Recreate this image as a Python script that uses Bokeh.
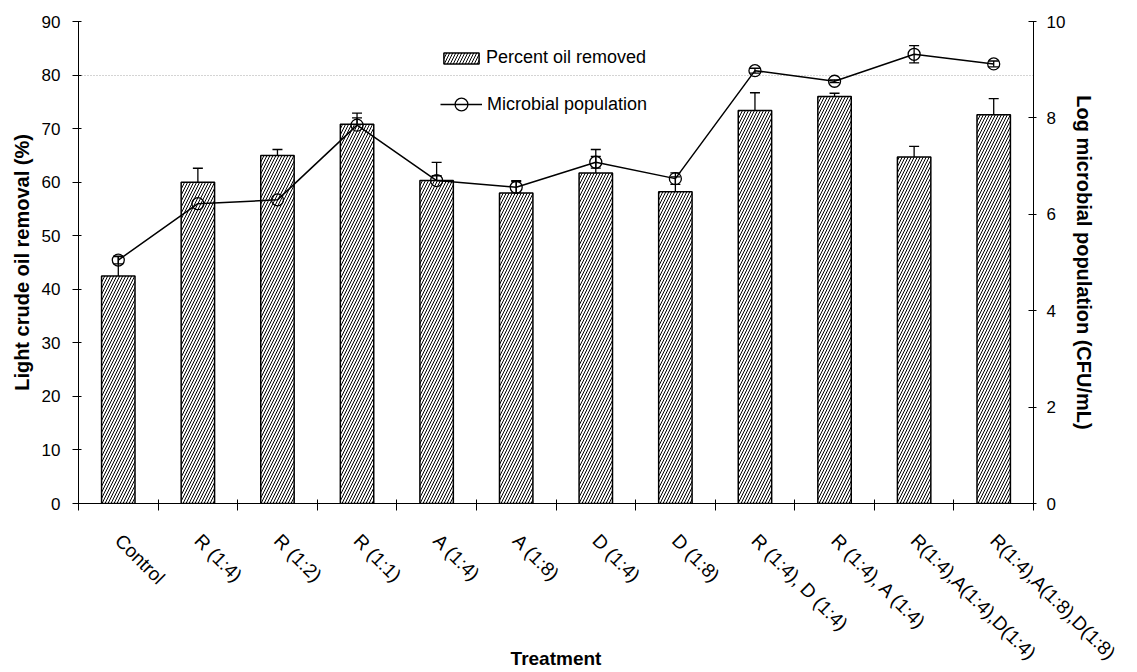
import math
from bokeh.plotting import figure
from bokeh.models import (Range1d, LinearAxis, FixedTicker, Whisker, ColumnDataSource,
                          Legend, LegendItem, TeeHead)
from bokeh.embed import file_html
from bokeh.resources import INLINE

# ---- data ----
treatments = ["Control", "R (1:4)", "R (1:2)", "R (1:1)", "A (1:4)", "A (1:8)",
              "D (1:4)", "D (1:8)", "R (1:4), D (1:4)", "R (1:4), A (1:4)",
              "R(1:4),A(1:4),D(1:4)", "R(1:4),A(1:8),D(1:8)"]
oil_removed = [42.5, 60.0, 65.0, 70.8, 60.3, 58.0, 61.7, 58.2, 73.4, 76.0, 64.7, 72.6]
oil_err = [3.6, 2.6, 1.1, 2.1, 3.4, 2.3, 4.4, 2.8, 3.3, 0.6, 2.0, 3.0]
log_pop = [5.05, 6.22, 6.30, 7.85, 6.70, 6.56, 7.08, 6.74, 8.98, 8.76, 9.32, 9.12]
pop_err = [0.08, 0.15, 0.05, 0.15, 0.10, 0.12, 0.12, 0.12, 0.05, 0.03, 0.18, 0.06]
left_ticks = [0, 10, 20, 30, 40, 50, 60, 70, 80, 90]
right_ticks = [0, 2, 4, 6, 8, 10]

FONT = "Liberation Sans"

xs = [i + 0.5 for i in range(len(treatments))]
bounds = list(range(len(treatments) + 1))

src = ColumnDataSource(dict(
    x=xs, oil=oil_removed,
    lo=[v - e for v, e in zip(oil_removed, oil_err)],
    hi=[v + e for v, e in zip(oil_removed, oil_err)],
    pop=log_pop,
    plo=[v - e for v, e in zip(log_pop, pop_err)],
    phi=[v + e for v, e in zip(log_pop, pop_err)],
))

p = figure(width=1121, height=672, x_range=Range1d(0, len(treatments)),
           y_range=Range1d(0, 90), output_backend="svg", toolbar_location=None,
           min_border_left=78, min_border_right=88, min_border_top=21,
           min_border_bottom=168)
p.extra_y_ranges = {"pop": Range1d(0, 10)}
p.outline_line_color = None
p.background_fill_color = "white"
p.border_fill_color = "white"

# grid: only a faint dotted line at 80
p.xgrid.visible = False
p.ygrid.ticker = FixedTicker(ticks=[80])
p.ygrid.grid_line_color = "#a8a8a8"
p.ygrid.grid_line_dash = "1 2"
p.ygrid.grid_line_width = 1

# left axis
yl = p.yaxis[0]
yl.ticker = FixedTicker(ticks=left_ticks)
yl.major_tick_in = 3
yl.major_tick_out = 6
yl.minor_tick_line_color = None
yl.major_label_standoff = 12
yl.major_label_text_font = FONT
yl.major_label_text_font_size = "17px"
yl.major_label_text_color = "black"
yl.axis_label = "Light crude oil removal (%)"
yl.axis_label_standoff = 6
yl.axis_label_text_font = FONT
yl.axis_label_text_font_size = "20px"
yl.axis_label_text_font_style = "bold"
yl.axis_label_text_color = "black"
yl.axis_line_color = "black"
yl.major_tick_line_color = "black"

# right axis
yr = LinearAxis(y_range_name="pop", ticker=FixedTicker(ticks=right_ticks))
yr.major_tick_in = 5
yr.major_tick_out = 3
yr.minor_tick_line_color = None
yr.major_label_standoff = 10
yr.major_label_text_font = FONT
yr.major_label_text_font_size = "17px"
yr.major_label_text_color = "black"
yr.axis_label = "Log microbial population (CFU/mL)"
yr.axis_label_standoff = 5
yr.axis_label_text_font = FONT
yr.axis_label_text_font_size = "20px"
yr.axis_label_text_font_style = "bold"
yr.axis_label_text_color = "black"
p.add_layout(yr, "right")

# bottom axis: labels at category centres, tick marks at boundaries
xa = p.xaxis[0]
xa.ticker = FixedTicker(ticks=xs, minor_ticks=bounds)
xa.major_label_overrides = {x: t for x, t in zip(xs, treatments)}
xa.major_tick_in = 0
xa.major_tick_out = 0
xa.minor_tick_in = 4
xa.minor_tick_out = 7
xa.minor_tick_line_color = "black"
xa.major_label_orientation = -math.pi / 4
xa.major_label_standoff = 27
xa.major_label_text_font = FONT
xa.major_label_text_font_size = "19px"
xa.major_label_text_color = "black"
xa.axis_line_color = "black"
xa.axis_label = "Treatment"
xa.axis_label_standoff = -26
xa.axis_label_text_font = FONT
xa.axis_label_text_font_size = "19px"
xa.axis_label_text_font_style = "bold"
xa.axis_label_text_color = "black"

# bars
bars = p.vbar(x="x", top="oil", width=0.42, source=src, fill_color="white",
              line_color="black", line_width=1.5, hatch_pattern="/",
              hatch_scale=6, hatch_weight=1, hatch_color="black")
p.add_layout(Whisker(base="x", lower="lo", upper="hi", source=src,
                     line_color="black", line_width=1.3,
                     upper_head=TeeHead(size=10, line_width=1.3),
                     lower_head=TeeHead(size=10, line_width=1.3)))

# microbial population
line_r = p.line(x="x", y="pop", source=src, y_range_name="pop",
                line_color="black", line_width=1.5)
pts = p.scatter(x="x", y="pop", source=src, y_range_name="pop", marker="circle",
                size=12, fill_alpha=0, line_color="black", line_width=1.3)
p.add_layout(Whisker(base="x", lower="plo", upper="phi", source=src, y_range_name="pop",
                     line_color="black", line_width=1.3,
                     upper_head=TeeHead(size=10, line_width=1.3),
                     lower_head=TeeHead(size=10, line_width=1.3)))

legend_common = dict(orientation="vertical", border_line_color=None,
                     background_fill_alpha=0, label_height=21,
                     label_text_font=FONT, label_text_font_size="18px",
                     label_text_color="black", padding=0, margin=0)
leg1 = Legend(items=[LegendItem(label="Percent oil removed", renderers=[bars])],
              location=(361, 435), glyph_width=44, glyph_height=14,
              label_standoff=3, **legend_common)
leg2 = Legend(items=[LegendItem(label="Microbial population", renderers=[line_r, pts])],
              location=(362, 383), glyph_width=42, glyph_height=32,
              label_standoff=5, **legend_common)
p.add_layout(leg1)
p.add_layout(leg2)

open("out.html", "w").write(file_html(p, INLINE))
